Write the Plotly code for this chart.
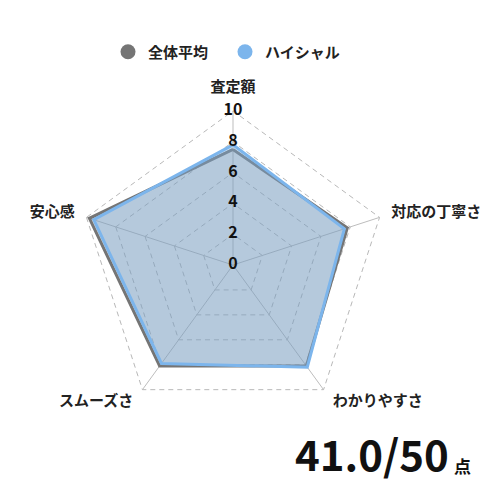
import plotly.graph_objects as go

categories = ['査定額', '対応の丁寧さ', 'わかりやすさ', 'スムーズさ', '安心感']
avg_values = [7.5, 7.8, 8.1, 8.1, 9.8]
haishal_values = [7.8, 7.6, 8.2, 7.9, 9.5]
tick_values = [0, 2, 4, 6, 8, 10]
score_text = '41.0/50'

FONT = 'Noto Sans CJK JP'
GRAY = '#757575'
BLUE = '#7cb5ec'
R_MAX = 11.6  # room for category labels outside the frame

fig = go.Figure()

# spokes from centre to the outer frame
spoke_r, spoke_t = [], []
for c in categories:
    spoke_r += [0, tick_values[-1], None]
    spoke_t += [c, c, None]
fig.add_trace(go.Scatterpolar(
    r=spoke_r, theta=spoke_t, mode='lines', line=dict(color='#bdbdbd', width=1),
    showlegend=False, hoverinfo='skip'))

fig.add_trace(go.Scatterpolar(
    r=avg_values + avg_values[:1], theta=categories + categories[:1],
    name='全体平均', mode='lines', fill='toself', showlegend=False,
    line=dict(color=GRAY, width=3),
    fillcolor='rgba(117,117,117,0.3)'))

fig.add_trace(go.Scatterpolar(
    r=haishal_values + haishal_values[:1], theta=categories + categories[:1],
    name='ハイシャル', mode='lines', fill='toself', showlegend=False,
    line=dict(color=BLUE, width=3),
    fillcolor='rgba(124,181,236,0.35)'))

# legend entries with round markers
for name, color in [('全体平均', GRAY), ('ハイシャル', BLUE)]:
    fig.add_trace(go.Scatterpolar(
        r=[None], theta=[categories[0]], name=name, mode='markers',
        marker=dict(color=color, size=15, symbol='circle')))

# radial tick labels drawn on the top spoke (plotly drops points exactly at the centre)
fig.add_trace(go.Scatterpolar(
    r=[max(v, 0.02) for v in tick_values], theta=[categories[0]] * len(tick_values),
    mode='text', text=[str(v) for v in tick_values], cliponaxis=False,
    textfont=dict(family=FONT, size=16, color='#111111', weight='bold'),
    textposition='middle center', showlegend=False, hoverinfo='skip'))

# category labels
label_r = [11.5, 10.8, 11.0, 11.0, 10.8]
label_pos = ['middle center', 'middle right', 'middle right', 'middle left', 'middle left']
fig.add_trace(go.Scatterpolar(
    r=label_r, theta=categories, mode='text', text=categories, cliponaxis=False,
    textposition=label_pos,
    textfont=dict(family=FONT, size=15, color='#222222', weight='bold'),
    showlegend=False, hoverinfo='skip'))

fig.update_layout(
    width=500, height=500,
    margin=dict(l=0, r=0, t=0, b=0),
    paper_bgcolor='white',
    font=dict(family=FONT, size=13, color='#222222'),
    showlegend=True,
    legend=dict(orientation='h', x=0.2, xanchor='left', y=0.912, yanchor='middle',
                font=dict(family=FONT, size=15, color='#222222', weight='bold'),
                entrywidth=72, entrywidthmode='pixels', itemsizing='trace'),
    polar=dict(
        domain=dict(x=[0.0925, 0.8075], y=[0.1285, 0.8435]),
        bgcolor='rgba(0,0,0,0)',
        gridshape='linear',
        radialaxis=dict(range=[0, R_MAX], tickvals=tick_values, showticklabels=False,
                        ticks='', showline=False, gridcolor='#b8b8b8', griddash='5px,4px',
                        gridwidth=1),
        angularaxis=dict(rotation=90, direction='clockwise', showline=False,
                         showticklabels=False, showgrid=False, ticks=''),
    ),
)

fig.add_annotation(x=0.569, y=0.046, xref='paper', yref='paper', xanchor='left', yanchor='bottom',
                   text=score_text, showarrow=False,
                   font=dict(family=FONT, size=42, color='#111111', weight='bold'))
fig.add_annotation(x=0.888, y=0.056, xref='paper', yref='paper', xanchor='left', yanchor='bottom',
                   text='点', showarrow=False,
                   font=dict(family=FONT, size=17, color='#111111', weight='bold'))

fig.write_html('out.html')
